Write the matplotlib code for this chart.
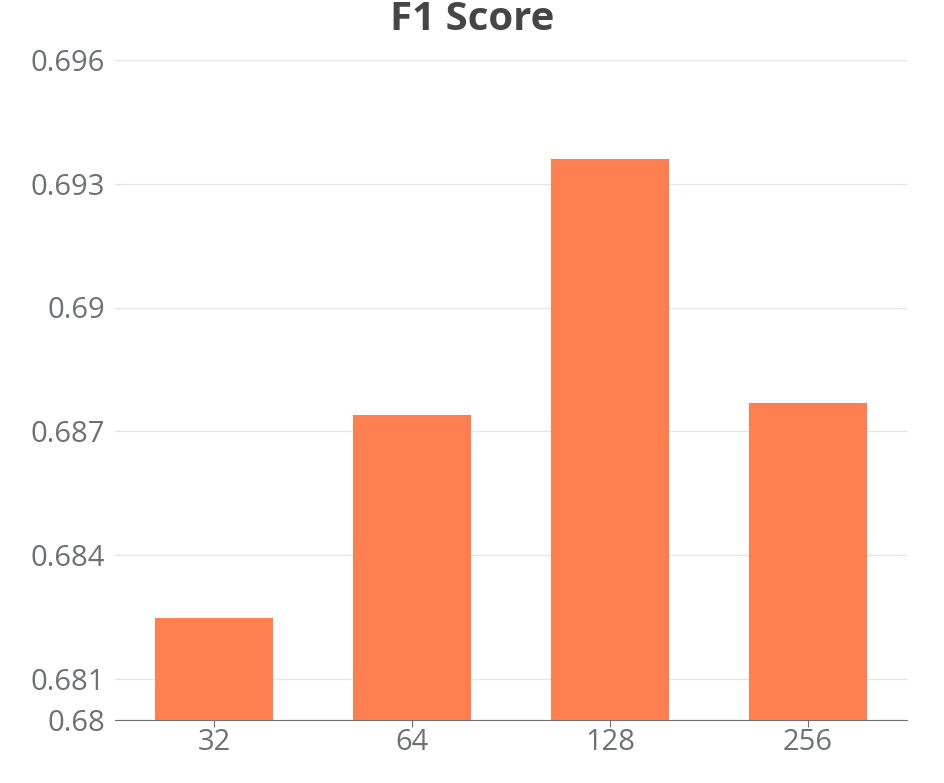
import matplotlib.pyplot as plt

plt.rcParams['font.family'] = ['Open Sans', 'DejaVu Sans']

batch_sizes = ['32', '64', '128', '256']
f1_scores = [0.68248, 0.68739, 0.6936, 0.68768]
y_ticks = [0.68, 0.681, 0.684, 0.687, 0.69, 0.693, 0.696]
y_tick_labels = ['0.68', '0.681', '0.684', '0.687', '0.69', '0.693', '0.696']

fig = plt.figure(figsize=(9.45, 7.83), dpi=100)
ax = fig.add_axes([115 / 945, 1 - 720 / 783, 792 / 945, 660 / 783])

x = range(len(batch_sizes))
ax.bar(x, f1_scores, width=0.6, color='#FF7F50', zorder=3)

ax.set_xlim(-0.5, len(batch_sizes) - 0.5)
ax.set_ylim(0.68, 0.696)
ax.set_xticks(list(x))
ax.set_xticklabels(batch_sizes)
ax.set_yticks(y_ticks)
ax.set_yticklabels(y_tick_labels)

ax.grid(axis='y', color='#E0E6F1', linewidth=1, zorder=0)
for side in ['top', 'right', 'left']:
    ax.spines[side].set_visible(False)
ax.spines['bottom'].set_color('#6E7079')
ax.spines['bottom'].set_zorder(4)

ax.tick_params(axis='y', length=0, pad=7, labelsize=21, labelcolor='#6E7079')
ax.tick_params(axis='x', length=5, color='#6E7079', pad=1, labelsize=21, labelcolor='#6E7079')

fig.text(472 / 945, 1 - 20 / 783, 'F1 Score', ha='center', va='center',
         fontsize=29, fontweight='bold', color='#464646')

fig.savefig('out.png', dpi=100, facecolor='white')
